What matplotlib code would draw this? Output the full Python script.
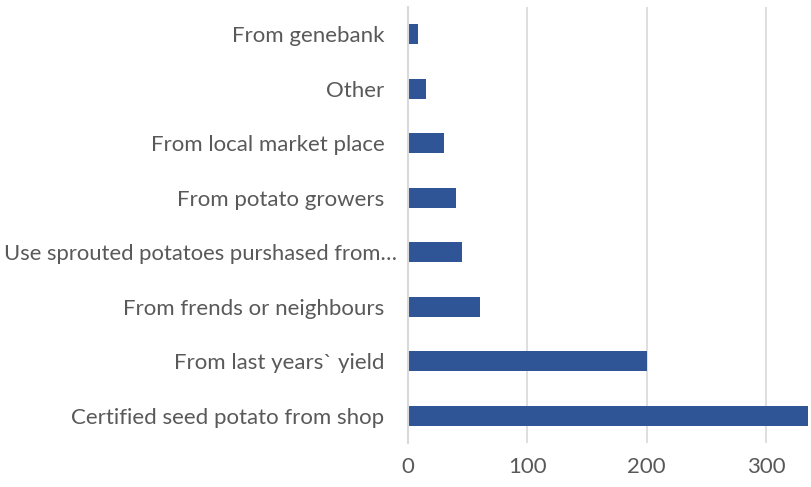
import matplotlib.pyplot as plt
import matplotlib.transforms as mtransforms

# seed sources, bottom to top
categories = ["Certified seed potato from shop",
              "From last years` yield",
              "From frends or neighbours",
              "Use sprouted potatoes purshased from…",
              "From potato growers",
              "From local market place",
              "Other",
              "From genebank"]
counts = [335, 200, 60, 45, 40, 30, 15, 8]
xticks = [0, 100, 200, 300]

plt.rcParams['font.family'] = ['Lato', 'DejaVu Sans']

fig = plt.figure(figsize=(8.11, 4.87), dpi=100)
ax = fig.add_axes([408/811, 44/487, 400/811, 436/487])

ax.barh(range(len(categories)), counts, height=0.36, color="#2F5597", zorder=3)
ax.set_yticks(range(len(categories)))
ax.set_yticklabels(categories)
ax.set_xticks(xticks)
ax.set_xlim(0, 335)
ax.set_ylim(-0.5, len(categories) - 0.5)

ax.grid(axis="x", color="#D9D9D9", linewidth=1.2, zorder=0)
for s in ["top", "right", "bottom"]:
    ax.spines[s].set_visible(False)
ax.spines["left"].set_color("#D9D9D9")
ax.spines["left"].set_linewidth(1.5)
ax.spines["left"].set_zorder(4)

ax.tick_params(axis="y", length=0, pad=17, labelsize=16, labelcolor="#595959")
ax.tick_params(axis="x", length=0, pad=10, labelsize=16, labelcolor="#595959")

# the truncated label sits closer to the axis, like in the original
lab = ax.get_yticklabels()[3]
lab.set_fontsize(15.8)
lab.set_transform(lab.get_transform() + mtransforms.ScaledTranslation(0.13, 0, fig.dpi_scale_trans))

fig.savefig("out.png", dpi=100)
